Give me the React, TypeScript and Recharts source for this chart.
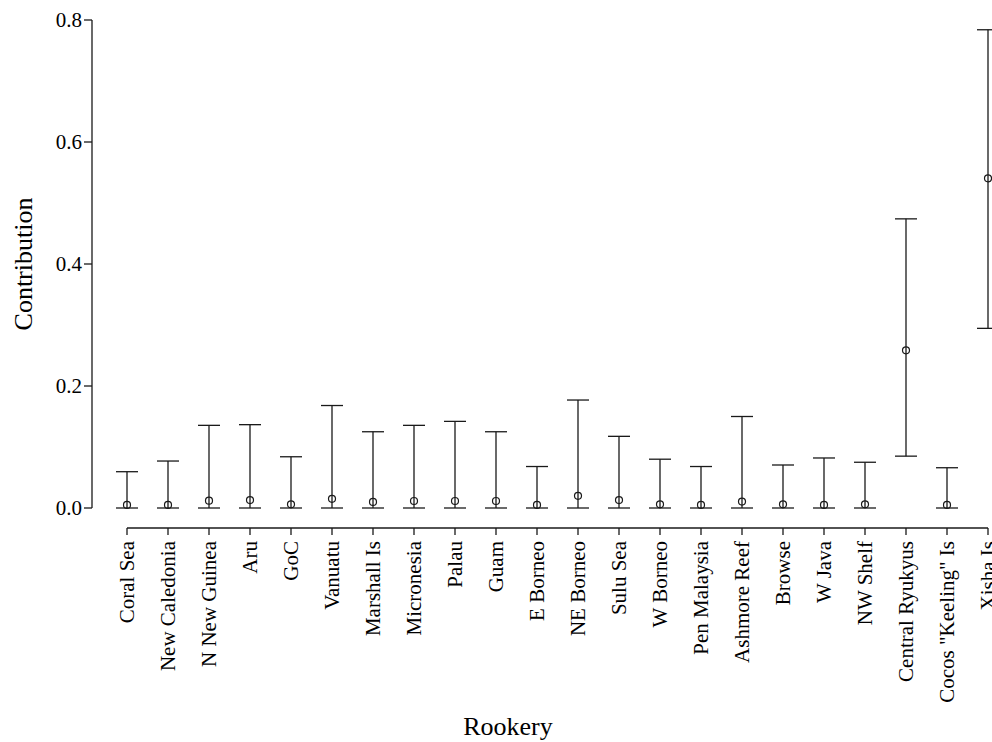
import { ComposedChart, Line, ErrorBar, XAxis, YAxis, ReferenceLine, Label } from "recharts";

const ROOKERIES = [
  "Coral Sea", "New Caledonia", "N New Guinea", "Aru", "GoC", "Vanuatu", "Marshall Is",
  "Micronesia", "Palau", "Guam", "E Borneo", "NE Borneo", "Sulu Sea", "W Borneo",
  "Pen Malaysia", "Ashmore Reef", "Browse", "W Java", "NW Shelf", "Central Ryukyus",
  "Cocos \"Keeling\" Is", "Xisha Is",
];

// point estimate of each rookery's contribution
const MEAN = [
  0.005, 0.005, 0.012, 0.013, 0.006, 0.015, 0.010, 0.0115, 0.0115, 0.0115, 0.005,
  0.020, 0.013, 0.006, 0.005, 0.0105, 0.006, 0.005, 0.006, 0.2585, 0.005, 0.5405,
];
// lower and upper interval bounds
const LOWER = [
  0, 0, 0, 0, 0, 0, 0, 0, 0, 0, 0,
  0, 0, 0, 0, 0, 0, 0, 0, 0.085, 0, 0.2945,
];
const UPPER = [
  0.0595, 0.077, 0.1355, 0.1366, 0.084, 0.168, 0.125, 0.1355, 0.142, 0.125, 0.068,
  0.177, 0.1175, 0.080, 0.068, 0.150, 0.0705, 0.082, 0.075, 0.474, 0.066, 0.784,
];
const Y_TICKS = [0, 0.2, 0.4, 0.6, 0.8];

const data = ROOKERIES.map((name, i) => ({
  name,
  mean: MEAN[i],
  err: [MEAN[i] - LOWER[i], UPPER[i] - MEAN[i]],
}));

const INK = "#1a1a1a";
const FONT = '"Liberation Serif", "DejaVu Serif", serif';
const serif = { fontFamily: FONT };
// the x axis sits a little below zero, like R's detached axes
const X_AXIS_GAP = -20 / 610;

function RookeryTick({ x, y, payload }: any) {
  const ty = y + 33;
  return (
    <g>
      <line x1={x} x2={x} y1={y + 20} y2={y + 27} stroke={INK} strokeWidth={1.3} />
      <text
        x={x}
        y={ty}
        transform={`rotate(-90 ${x} ${ty})`}
        textAnchor="end"
        dominantBaseline="central"
        style={serif}
        fontSize={21}
        fill="#000"
      >
        {payload.value}
      </text>
    </g>
  );
}

export default function App() {
  return (
    <div style={{ position: "absolute", left: 0, top: 0, width: 992, height: 742, overflow: "hidden", background: "#fff", fontFamily: FONT }}>
      <ComposedChart width={992} height={742} data={data} margin={{ top: 20, right: 4, left: 0, bottom: 0 }}>
        <XAxis
          dataKey="name"
          scale="point"
          padding={{ left: 35, right: 0 }}
          interval={0}
          axisLine={false}
          tickLine={false}
          tickSize={0}
          tickMargin={0}
          height={234}
          tick={<RookeryTick />}
        >
          <Label
            content={() => (
              <text x={508} y={735} textAnchor="middle" style={serif} fontSize={26} fill="#000">
                Rookery
              </text>
            )}
          />
        </XAxis>
        <YAxis
          width={92}
          domain={[0, 0.8]}
          ticks={Y_TICKS}
          tickFormatter={(v: number) => v.toFixed(1)}
          axisLine={{ stroke: INK, strokeWidth: 1.3 }}
          tickLine={{ stroke: INK, strokeWidth: 1.3 }}
          tickSize={8}
          tickMargin={2}
          tick={{ fill: "#000", fontSize: 21, style: serif }}
        >
          <Label
            content={() => (
              <text transform="translate(32 264) rotate(-90)" textAnchor="middle" style={serif} fontSize={26} fill="#000">
                Contribution
              </text>
            )}
          />
        </YAxis>
        <ReferenceLine
          segment={[
            { x: ROOKERIES[0], y: X_AXIS_GAP },
            { x: ROOKERIES[ROOKERIES.length - 1], y: X_AXIS_GAP },
          ]}
          ifOverflow="visible"
          stroke={INK}
          strokeWidth={1.3}
        />
        <Line
          dataKey="mean"
          stroke="none"
          isAnimationActive={false}
          dot={{ r: 3.5, fill: "none", stroke: INK, strokeWidth: 1.2 }}
          activeDot={false}
        >
          <ErrorBar dataKey="err" width={11} stroke={INK} strokeWidth={1.3} direction="y" isAnimationActive={false} />
        </Line>
      </ComposedChart>
    </div>
  );
}
